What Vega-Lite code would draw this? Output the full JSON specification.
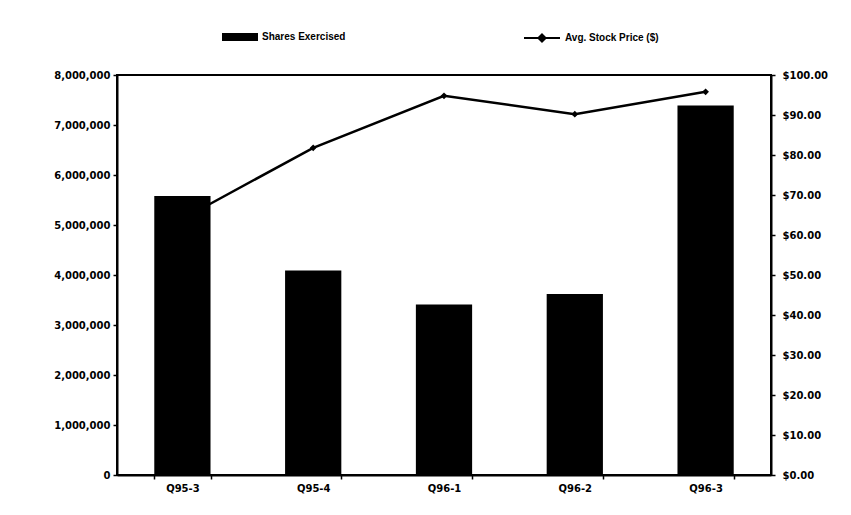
{
  "$schema": "https://vega.github.io/schema/vega-lite/v6.json",
  "width": 654,
  "height": 400,
  "autosize": "none",
  "padding": {"left": 117, "top": 75, "right": 80, "bottom": 40},
  "background": "white",
  "data": {
    "values": [
      {"quarter": "Q95-3", "shares": 5580000, "price": 64.0},
      {"quarter": "Q95-4", "shares": 4090000, "price": 81.8},
      {"quarter": "Q96-1", "shares": 3410000, "price": 94.8},
      {"quarter": "Q96-2", "shares": 3620000, "price": 90.2},
      {"quarter": "Q96-3", "shares": 7390000, "price": 95.8}
    ]
  },
  "encoding": {
    "x": {
      "field": "quarter",
      "type": "nominal",
      "sort": null,
      "scale": {"paddingInner": 0.57, "paddingOuter": 0.285},
      "axis": {
        "title": null,
        "labelAngle": 0,
        "tickBand": "extent",
        "tickSize": 4,
        "tickWidth": 1.5,
        "domainWidth": 2,
        "labelPadding": 4,
        "labelFont": "DejaVu Sans",
        "labelFontWeight": "bold",
        "labelFontSize": 10,
        "labelColor": "black",
        "domainColor": "black",
        "tickColor": "black"
      }
    }
  },
  "layer": [
    {
      "mark": {"type": "bar"},
      "encoding": {
        "y": {
          "field": "shares",
          "type": "quantitative",
          "scale": {"domain": [0, 8000000], "nice": false},
          "axis": {
            "title": null,
            "orient": "left",
            "values": [0, 1000000, 2000000, 3000000, 4000000, 5000000, 6000000, 7000000, 8000000],
            "format": ",.0f",
            "grid": false,
            "tickSize": 4,
            "tickWidth": 1.5,
            "domainWidth": 2,
            "labelPadding": 3,
            "labelFont": "DejaVu Sans",
            "labelFontWeight": "bold",
            "labelFontSize": 10,
            "labelColor": "black",
            "domainColor": "black",
            "tickColor": "black"
          }
        },
        "fill": {
          "datum": "Shares Exercised",
          "scale": {"range": ["black"]},
          "legend": {
            "title": null,
            "orient": "none",
            "legendX": 105,
            "legendY": -56,
            "symbolType": "M-1,-0.22H1V0.22H-1Z",
            "symbolSize": 1296,
            "symbolFillColor": "black",
            "symbolStrokeWidth": 0,
            "labelFont": "Liberation Sans",
            "labelFontWeight": "bold",
            "labelFontSize": 10,
            "labelColor": "black",
            "labelOffset": 4
          }
        }
      }
    },
    {
      "encoding": {
        "y": {
          "field": "price",
          "type": "quantitative",
          "scale": {"domain": [0, 100], "nice": false},
          "axis": {
            "title": null,
            "orient": "right",
            "values": [0, 10, 20, 30, 40, 50, 60, 70, 80, 90, 100],
            "format": "$.2f",
            "grid": false,
            "tickSize": 4,
            "tickWidth": 1.5,
            "domainWidth": 2,
            "labelPadding": 7,
            "labelFont": "DejaVu Sans",
            "labelFontWeight": "bold",
            "labelFontSize": 10,
            "labelColor": "black",
            "domainColor": "black",
            "tickColor": "black"
          }
        }
      },
      "layer": [
        {
          "mark": {"type": "line", "strokeWidth": 2.5},
          "encoding": {
            "stroke": {
              "datum": "Avg. Stock Price ($)",
              "scale": {"range": ["black"]},
              "legend": {
                "title": null,
                "orient": "none",
                "legendX": 406,
                "legendY": -56,
                "symbolType": "M-1,0H1M0,-0.2L0.2,0L0,0.2L-0.2,0Z",
                "symbolSize": 1296,
                "labelFont": "Liberation Sans",
                "labelFontWeight": "bold",
                "labelFontSize": 10,
                "labelColor": "black",
                "labelOffset": 4,
                "encode": {
                  "symbols": {
                    "update": {
                      "fill": {"value": "black"},
                      "stroke": {"value": "black"},
                      "strokeWidth": {"value": 2}
                    }
                  }
                }
              }
            }
          }
        },
        {
          "mark": {"type": "point", "shape": "diamond", "filled": true, "color": "black", "size": 45, "opacity": 1}
        }
      ]
    }
  ],
  "resolve": {"scale": {"y": "independent"}},
  "config": {
    "view": {"stroke": "black", "strokeWidth": 2}
  }
}
